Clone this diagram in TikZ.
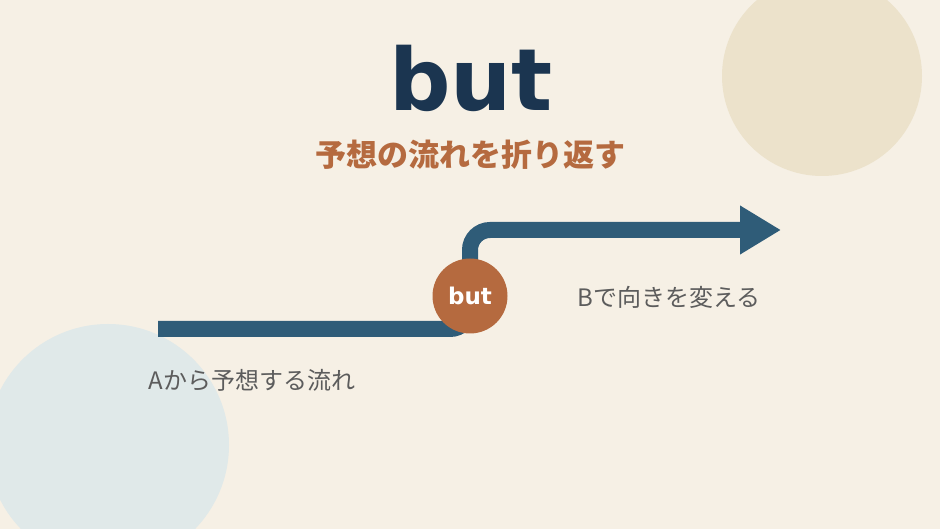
\documentclass[tikz,border=0pt]{standalone}
\usepackage{fontspec}
\usetikzlibrary{arrows.meta}
\newfontfamily\jpfont{Noto Sans CJK JP}
\newfontfamily\titlefont{DejaVu Sans}

\definecolor{paper}{HTML}{F6F0E5}
\definecolor{sand}{HTML}{ECE2CB}
\definecolor{mist}{HTML}{E0E9E9}
\definecolor{navy}{HTML}{1B3550}
\definecolor{flowblue}{HTML}{2F5C78}
\definecolor{rust}{HTML}{B56A3F}
\definecolor{note}{HTML}{5C5C5C}

\tikzset{
  flowline/.style = {draw=flowblue, line width=16pt, rounded corners=20pt},
  turndot/.style = {circle, fill=rust, minimum size=75pt, inner sep=0pt,
    text=white, font=\titlefont\bfseries\fontsize{23}{23}\selectfont},
  notetext/.style = {text=note, font=\jpfont\fontsize{24}{24}\selectfont, inner sep=0pt},
}

\begin{document}
\begin{tikzpicture}[x=1pt, y=-1pt]
    \fill[paper] (0, 0) rectangle (940, 529);
    \useasboundingbox (0, 0) rectangle (940, 529);
    \fill[sand] (822, 76) circle (100);
    \fill[mist] (108, 445) circle (121);

    \node[text=navy, font=\titlefont\bfseries\fontsize{86}{86}\selectfont] (title) at (471, 78) {but};
    \node[text=rust, font=\jpfont\bfseries\fontsize{31}{31}\selectfont] (subtitle) at (470, 155) {予想の流れを折り返す};

    \coordinate (start) at (158, 329);
    \coordinate (bend) at (470, 296);
    \coordinate (finish) at (781, 230);
    \draw[flowline, -{Triangle[length=41pt, width=46pt]}] (start) -| (bend) |- (finish);
    \node[turndot] (butdot) at (bend) {but};

    \node[notetext] (labelA) at (252, 380) {Aから予想する流れ};
    \node[notetext] (labelB) at (669, 297) {Bで向きを変える};
\end{tikzpicture}
\end{document}
